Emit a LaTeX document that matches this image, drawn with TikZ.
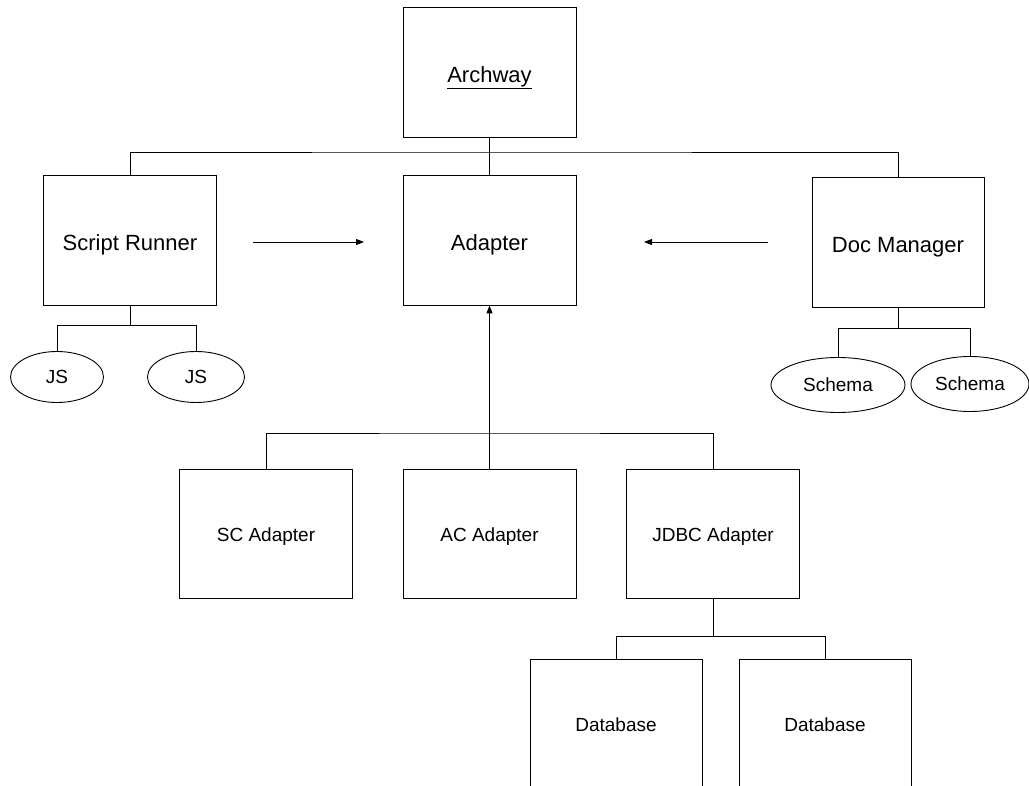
\documentclass[tikz,border=0pt]{standalone}
\usepackage{fontspec}
\setmainfont{Liberation Sans}
\usetikzlibrary{shapes.geometric,arrows.meta}
\begin{document}
\begin{tikzpicture}[x=1pt,y=-1pt,
  line/.style={line width=0.9pt},
  box/.style={draw, line width=0.9pt, minimum width=173pt, minimum height=130pt, inner sep=0pt, text height=21pt, text depth=0pt, font=\fontsize{22}{26}\selectfont},
  sbox/.style={box, text height=15pt, text depth=0pt, font=\fontsize{19}{23}\selectfont},
  oval/.style={draw, ellipse, line width=0.9pt, inner sep=0pt, font=\fontsize{19}{23}\selectfont},
  arr/.style={line, -{Triangle[length=8pt,width=6pt]}}]
\useasboundingbox (0,0) rectangle (1029,786);
\clip (0,0) rectangle (1029,786);
% top level
\node[box] (arch) at (489.5,72) {\underline{Archway}};
\node[box] (script) at (130,240) {Script Runner};
\node[box] (adapter) at (489.5,240) {Adapter};
\node[box, minimum width=172pt] (doc) at (898,242) {Doc Manager};
\coordinate (tb) at (489.5,152);
\draw[line] (arch.south) -- (adapter.north);
\draw[line] (script.north) |- (tb) -| (doc.north);
% arrows
\coordinate (l1) at (253,242);
\coordinate (l2) at (364,242);
\coordinate (r1) at (768,242);
\coordinate (r2) at (644,242);
\draw[arr] (l1) -- (l2);
\draw[arr] (r1) -- (r2);
% JS
\node[oval, minimum width=93pt, minimum height=51pt] (js1) at (57,377) {JS};
\node[oval, minimum width=97pt, minimum height=51pt] (js2) at (196,377) {JS};
\draw[line] (script.south) -- ++(0,20) coordinate (sb);
\draw[line] (js1.north) |- (sb) -| (js2.north);
% Schema
\node[oval, minimum width=134pt, minimum height=55pt] (sch1) at (838,385) {Schema};
\node[oval, minimum width=118pt, minimum height=55pt] (sch2) at (970,384) {Schema};
\draw[line] (doc.south) -- ++(0,21) coordinate (db);
\draw[line] (sch1.north) |- (db) -| (sch2.north);
% adapters
\node[sbox, minimum height=129pt] (sc) at (266,533.5) {SC Adapter};
\node[sbox, minimum height=129pt] (ac) at (489.5,533.5) {AC Adapter};
\node[sbox, minimum height=129pt] (jdbc) at (713,533.5) {JDBC Adapter};
\coordinate (bb) at (489.5,433);
\draw[line] (sc.north) |- (bb) -| (jdbc.north);
\draw[line] (ac.north) -- (bb);
\draw[arr] (bb) -- (adapter.south);
% databases
\node[sbox, minimum width=172pt, minimum height=130pt] (db1) at (616,724) {Database};
\node[sbox, minimum width=172pt, minimum height=130pt] (db2) at (825,724) {Database};
\draw[line] (jdbc.south) -- ++(0,38) coordinate (jb);
\draw[line] (db1.north) |- (jb) -| (db2.north);
\end{tikzpicture}
\end{document}
